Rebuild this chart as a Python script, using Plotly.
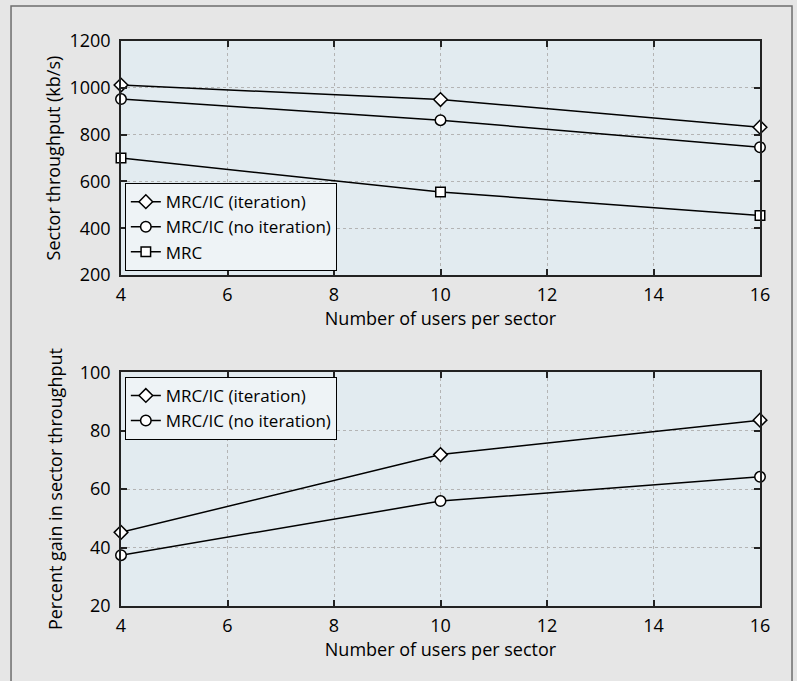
import plotly.graph_objects as go

users = [4, 10, 16]
thr_iter = [1012, 950, 832]
thr_noiter = [952, 862, 746]
thr_mrc = [700, 555, 455]
gain_iter = [45.2, 71.8, 83.6]
gain_noiter = [37.4, 55.9, 64.2]

names = ["MRC/IC (iteration)", "MRC/IC (no iteration)", "MRC"]
FONT = "Open Sans"
FS = 18

fig = go.Figure()

def add(x, y, name, symbol, size, xa, ya, legend):
    fig.add_trace(go.Scatter(
        x=x, y=y, name=name, mode="lines+markers",
        line=dict(color="black", width=1.5),
        marker=dict(symbol=symbol, size=size, color="white",
                    line=dict(color="black", width=1.5)),
        xaxis=xa, yaxis=ya, legend=legend, cliponaxis=False))

add(users, thr_iter, names[0], "diamond", 10.5, "x", "y", "legend")
add(users, thr_noiter, names[1], "circle", 10.5, "x", "y", "legend")
add(users, thr_mrc, names[2], "square", 9.5, "x", "y", "legend")
add(users, gain_iter, names[0], "diamond", 10.5, "x2", "y2", "legend2")
add(users, gain_noiter, names[1], "circle", 10.5, "x2", "y2", "legend2")

ax_common = dict(
    showline=True, linecolor="#222222", linewidth=1.5, mirror="ticks",
    ticks="inside", ticklen=6, tickcolor="#222222", tickwidth=1.5,
    showgrid=True, gridcolor="#b4b4b4", gridwidth=1, griddash="dot",
    zeroline=False, tickfont=dict(family=FONT, size=FS, color="black"),
)
x_extra = dict(ticklabelstandoff=3)
y_extra = dict(ticklabelstandoff=5)

l_title = dict(family=FONT, size=FS, color="black")
leg_font = dict(family=FONT, size=17, color="black")

fig.update_layout(
    width=797, height=681,
    margin=dict(l=121, r=37, t=41, b=75),
    paper_bgcolor="#e6e6e6", plot_bgcolor="#e2ebf0",
    font=dict(family=FONT, size=FS, color="black"),
    xaxis=dict(domain=[0, 1], anchor="y", range=[4, 16], dtick=2,
               title=dict(text="Number of users per sector", font=l_title, standoff=2),
               **ax_common, **x_extra),
    yaxis=dict(domain=[0.5856, 1], anchor="x", range=[200, 1200], dtick=200,
               title=dict(text="Sector throughput (kb/s)", font=l_title, standoff=4),
               **ax_common, **y_extra),
    xaxis2=dict(domain=[0, 1], anchor="y2", range=[4, 16], dtick=2,
                title=dict(text="Number of users per sector", font=l_title, standoff=2),
                **ax_common, **x_extra),
    yaxis2=dict(domain=[0, 0.4138], anchor="x2", range=[20, 100], dtick=20,
                title=dict(text="Percent gain in sector throughput", font=l_title, standoff=12),
                **ax_common, **y_extra),
    legend=dict(x=0.006, y=0.5927, xanchor="left", yanchor="bottom",
                bgcolor="#eef3f6", bordercolor="black", borderwidth=1,
                font=leg_font, itemwidth=30, tracegroupgap=0),
    legend2=dict(x=0.006, y=0.4055, xanchor="left", yanchor="top",
                 bgcolor="#eef3f6", bordercolor="black", borderwidth=1,
                 font=leg_font, itemwidth=30, tracegroupgap=0),
    shapes=[dict(type="rect", xref="paper", yref="paper",
                 x0=-0.1721, x1=1.0501, y0=-0.3, y1=1.062,
                 line=dict(color="#6e6e6e", width=1.5), layer="below")],
)

fig.write_html("out.html")
